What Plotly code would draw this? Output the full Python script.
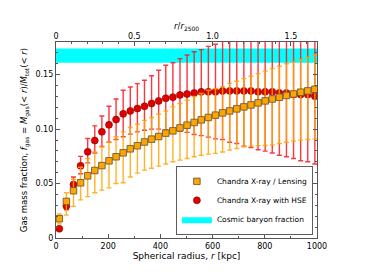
import plotly.graph_objects as go

# Spherical radius of each bin [kpc]
r_kpc = [12.6, 39.8, 67.0, 94.2, 121.4, 148.6, 175.8, 203.0, 230.2, 257.4,
         284.6, 311.8, 339.0, 366.2, 393.4, 420.6, 447.8, 475.0, 502.2, 529.4,
         556.6, 583.8, 611.0, 638.2, 665.4, 692.6, 719.8, 747.0, 774.2, 801.4,
         828.6, 855.8, 883.0, 910.2, 937.4, 964.6, 991.8]

# Chandra X-ray / Lensing
lens_f = [0.0177, 0.0336, 0.0434, 0.0507, 0.0571, 0.0620, 0.0665, 0.0709, 0.0746, 0.0782,
          0.0819, 0.0847, 0.0882, 0.0908, 0.0932, 0.0963, 0.0984, 0.1011, 0.1036, 0.1061,
          0.1085, 0.1107, 0.1128, 0.1149, 0.1167, 0.1186, 0.1204, 0.1222, 0.1241, 0.1259,
          0.1277, 0.1293, 0.1309, 0.1323, 0.1339, 0.1351, 0.1366]
lens_hi = [0.022, 0.0415, 0.054, 0.065, 0.073, 0.079, 0.0837, 0.088, 0.093, 0.0975,
           0.1015, 0.1045, 0.108, 0.1107, 0.1137, 0.1167, 0.1204, 0.1235, 0.1265, 0.130,
           0.1327, 0.1357, 0.137, 0.139, 0.142, 0.144, 0.1464, 0.1486, 0.151, 0.1534,
           0.1556, 0.1577, 0.160, 0.1617, 0.164, 0.166, 0.168]
lens_lo = [0.013, 0.021, 0.029, 0.035, 0.038, 0.0415, 0.044, 0.046, 0.050, 0.0507,
           0.056, 0.0596, 0.0623, 0.064, 0.066, 0.068, 0.070, 0.0715, 0.073, 0.0746,
           0.076, 0.077, 0.0777, 0.079, 0.0807, 0.0822, 0.0837, 0.0844, 0.0848, 0.085,
           0.0855, 0.0868, 0.088, 0.089, 0.0899, 0.0905, 0.091]

# Chandra X-ray with HSE
hse_f = [0.0085, 0.0293, 0.0491, 0.0663, 0.0791, 0.0895, 0.0975, 0.1039, 0.1088, 0.1140,
         0.1167, 0.1189, 0.1210, 0.1235, 0.1259, 0.1284, 0.1293, 0.1314, 0.1322, 0.1332,
         0.1342, 0.1342, 0.1342, 0.1351, 0.1351, 0.1351, 0.1351, 0.1351, 0.1342, 0.1342,
         0.1342, 0.1332, 0.1332, 0.1317, 0.1317, 0.1317, 0.1302]
hse_hi = [0.010, 0.033, 0.056, 0.075, 0.0914, 0.103, 0.112, 0.121, 0.1277, 0.1357,
          0.1387, 0.1418, 0.1449, 0.149, 0.154, 0.1586, 0.161, 0.1647, 0.168, 0.171,
          0.173, 0.176, 0.178, 0.182, 0.185, 0.188, 0.190, 0.192, 0.194, 0.196,
          0.198, 0.200, 0.202, 0.204, 0.206, 0.208, 0.210]
hse_lo = [0.007, 0.026, 0.045, 0.059, 0.069, 0.078, 0.084, 0.088, 0.0905, 0.093,
          0.0954, 0.0975, 0.099, 0.100, 0.100, 0.0995, 0.099, 0.098, 0.097, 0.095,
          0.094, 0.0926, 0.091, 0.0905, 0.088, 0.0868, 0.0844, 0.083, 0.081, 0.0798,
          0.078, 0.076, 0.0746, 0.073, 0.071, 0.070, 0.068]

# Cosmic baryon fraction band
band_x = [0, 1000]
band_lo = 0.161
band_hi = 0.174

r2500_kpc = 600.0

x_ticks = [0, 200, 400, 600, 800, 1000]
y_ticks = [0, 0.05, 0.10, 0.15]
y_ticktext = ["0", "0.05", "0.10", "0.15"]
top_ticks = [0, 0.5, 1.0, 1.5]
top_ticktext = ["0", "0.5", "1.0", "1.5"]

FONT = "DejaVu Sans"
AX = "#555555"

fig = go.Figure()

fig.add_trace(go.Scatter(
    x=[band_x[0], band_x[1], band_x[1], band_x[0], band_x[0]],
    y=[band_lo, band_lo, band_hi, band_hi, band_lo],
    mode="lines", fill="toself", fillcolor="#00FFFF",
    line=dict(width=0, color="#00FFFF"),
    name="Cosmic baryon fraction", legendrank=3, hoverinfo="skip"))

fig.add_trace(go.Scatter(
    x=r_kpc, y=hse_f, mode="markers", name="Chandra X-ray with HSE", legendrank=2,
    marker=dict(symbol="circle", size=7, color="#E00000",
                line=dict(color="#8B0000", width=0.6)),
    error_y=dict(type="data", symmetric=False,
                 array=[h - f for h, f in zip(hse_hi, hse_f)],
                 arrayminus=[f - l for f, l in zip(hse_f, hse_lo)],
                 color="rgba(250,20,30,0.85)", thickness=1.4, width=2.5)))

fig.add_trace(go.Scatter(
    x=r_kpc, y=lens_f, mode="markers", name="Chandra X-ray / Lensing", legendrank=1,
    marker=dict(symbol="square", size=6.5, color="#FFA500",
                line=dict(color="#6E5A3A", width=0.9)),
    error_y=dict(type="data", symmetric=False,
                 array=[h - f for h, f in zip(lens_hi, lens_f)],
                 arrayminus=[f - l for f, l in zip(lens_f, lens_lo)],
                 color="rgba(255,165,0,0.85)", thickness=1.4, width=2.5)))

# invisible trace to activate top axis
fig.add_trace(go.Scatter(x=[r / r2500_kpc for r in band_x], y=[band_lo, band_lo],
                         xaxis="x2", mode="lines", line=dict(width=0),
                         showlegend=False, hoverinfo="skip"))

fig.update_layout(
    width=374, height=280,
    margin=dict(l=56, r=57, t=42, b=42),
    paper_bgcolor="white", plot_bgcolor="white",
    font=dict(family=FONT, size=8, color="black"),
    showlegend=True,
    legend=dict(x=0.985, y=0.015, xanchor="right", yanchor="bottom",
                bgcolor="white", bordercolor="#333333", borderwidth=0.8,
                font=dict(family=FONT, size=7.5), traceorder="normal",
                itemwidth=30, tracegroupgap=0),
    xaxis=dict(range=[0, 1000], tickvals=x_ticks, ticktext=[str(v) for v in x_ticks],
               ticks="inside", ticklen=4, tickcolor=AX, showline=True, linecolor=AX,
               linewidth=1.2, mirror=True, showgrid=False, zeroline=False,
               tickfont=dict(size=8), automargin=False,
               minor=dict(dtick=100, ticks="inside", ticklen=2, tickcolor=AX),
               title=dict(text="Spherical radius, <i>r</i> [kpc]", font=dict(size=9), standoff=1)),
    xaxis2=dict(range=[0, 1000 / r2500_kpc], overlaying="x", side="top", anchor="y",
                tickvals=top_ticks, ticktext=top_ticktext, automargin=False,
                ticks="inside", ticklen=4, tickcolor=AX, showgrid=False, zeroline=False,
                showline=False, tickfont=dict(size=8),
                minor=dict(dtick=0.1, ticks="inside", ticklen=2, tickcolor=AX),
                title=dict(text="<i>r</i>/<i>r</i><sub>2500</sub>", font=dict(size=8.5), standoff=1)),
    yaxis=dict(range=[0, 0.18], tickvals=y_ticks, ticktext=y_ticktext,
               ticks="inside", ticklen=4, tickcolor=AX, showline=True, linecolor=AX,
               linewidth=1.2, mirror="ticks", showgrid=False, zeroline=False,
               tickfont=dict(size=8), automargin=False,
               minor=dict(dtick=0.01, ticks="inside", ticklen=2, tickcolor=AX),
               title=dict(text="Gas mass fraction, <i>f</i><sub>gas</sub> = <i>M</i><sub>gas</sub>(&lt; <i>r</i>)/<i>M</i><sub>tot</sub>(&lt; <i>r</i>)",
                          font=dict(size=8.5), standoff=6)),
)

fig.write_html("out.html", config={"displayModeBar": False},
               post_script="document.body.style.margin='0';document.body.style.overflow='hidden';")
